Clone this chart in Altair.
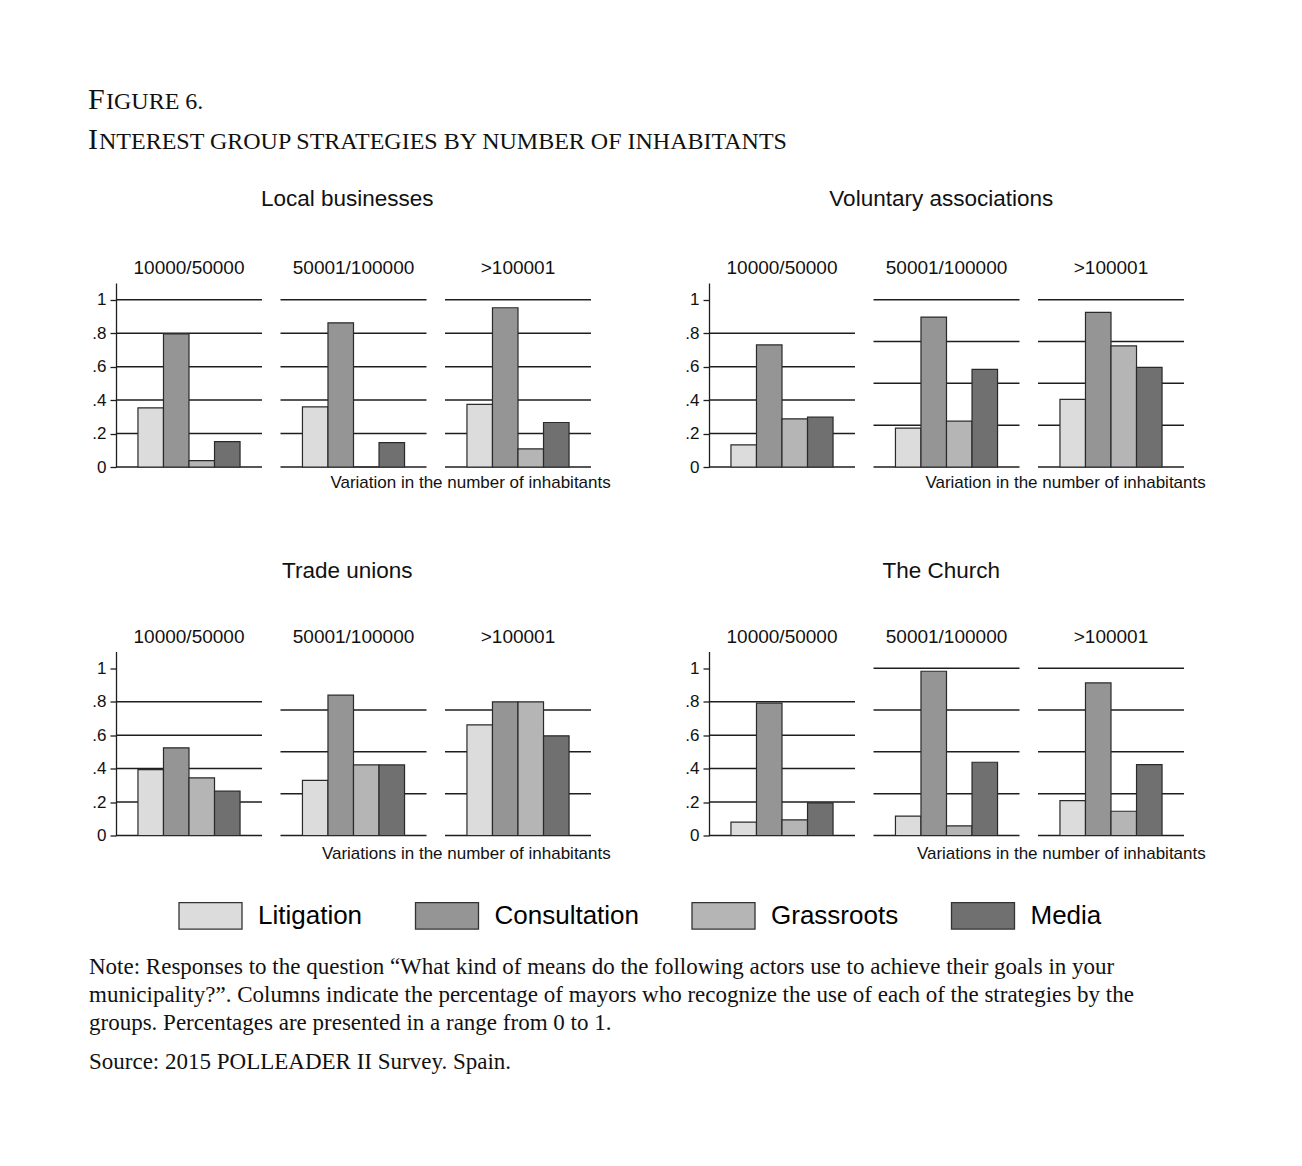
import altair as alt
import pandas as pd

# ---------------- data ----------------
strategies = ["Litigation", "Consultation", "Grassroots", "Media"]
strategy_colors = ["#dcdcdc", "#959595", "#b5b5b5", "#707070"]
size_labels = ["10000/50000", "50001/100000", ">100001"]
group_names = ["Local businesses", "Voluntary associations", "Trade unions", "The Church"]
axis_titles = [
    "Variation in the number of inhabitants",
    "Variation in the number of inhabitants",
    "Variations in the number of inhabitants",
    "Variations in the number of inhabitants",
]

local_businesses = [[0.354, 0.796, 0.038, 0.152], [0.360, 0.862, 0.0, 0.146], [0.374, 0.952, 0.108, 0.266]]
voluntary_associations = [[0.132, 0.730, 0.288, 0.298], [0.232, 0.896, 0.274, 0.584], [0.404, 0.924, 0.724, 0.596]]
trade_unions = [[0.394, 0.524, 0.345, 0.265], [0.329, 0.839, 0.422, 0.422], [0.661, 0.799, 0.799, 0.596]]
the_church = [[0.080, 0.791, 0.094, 0.195], [0.116, 0.982, 0.058, 0.438], [0.209, 0.912, 0.145, 0.424]]
group_values = [local_businesses, voluntary_associations, trade_unions, the_church]

grid_fifths = [0, 0.2, 0.4, 0.6, 0.8, 1.0]
grid_fifths_open = [0, 0.2, 0.4, 0.6, 0.8]
grid_quarters = [0, 0.25, 0.5, 0.75, 1.0]
grid_quarters_open = [0, 0.25, 0.5, 0.75]
group_grids = [
    [grid_fifths, grid_fifths, grid_fifths],
    [grid_fifths_open, grid_quarters, grid_quarters],
    [grid_fifths_open, grid_quarters_open, grid_quarters_open],
    [grid_fifths_open, grid_quarters, grid_quarters],
]
y_ticks = [0, 0.2, 0.4, 0.6, 0.8, 1.0]

header_line1 = ["F", "IGURE 6."]
header_line2 = ["I", "NTEREST GROUP STRATEGIES BY NUMBER OF INHABITANTS"]
note_lines = [
    "Note: Responses to the question \u201cWhat kind of means do the following actors use to achieve their goals in your",
    "municipality?\u201d. Columns indicate the percentage of mayors who recognize the use of each of the strategies by the",
    "groups. Percentages are presented in a range from 0 to 1.",
    "Source: 2015 POLLEADER II Survey. Spain.",
]

SANS = "Liberation Sans"
SERIF = "Liberation Serif"
INK = "#1e1e1e"

legend = alt.Legend(
    orient="none", legendX=62, legendY=805, direction="horizontal", columns=4,
    title=None, symbolType="M-1,-0.42H1V0.42H-1Z", symbolSize=3969,
    symbolStrokeColor="#333333", symbolStrokeWidth=1.3, symbolOpacity=1,
    labelFont=SANS, labelFontSize=26, labelLimit=400,
    labelColor="#000000", labelOffset=15, columnPadding=49.5, padding=0,
)
color_scale = alt.Scale(domain=strategies, range=strategy_colors)
y_scale = alt.Scale(domain=[0, 1.1], nice=False, zero=True)


def panel(gi, si):
    df = pd.DataFrame({"strategy": strategies, "value": group_values[gi][si]})
    gdf = pd.DataFrame({"g": group_grids[gi][si]})
    if si == 0:
        yaxis = alt.Axis(
            values=y_ticks, grid=False, title=None, domain=True, domainColor=INK,
            domainWidth=1.3, ticks=True, tickColor=INK, tickWidth=1.3, tickSize=6,
            labelFont=SANS, labelFontSize=17, labelColor="#111111", labelPadding=4,
            labelExpr="datum.value == 0 ? '0' : datum.value == 1 ? '1' : replace(format(datum.value, '.1f'), '0.', '.')",
        )
    else:
        yaxis = None
    rules = alt.Chart(gdf).mark_rule(color=INK, strokeWidth=1.5).encode(
        y=alt.Y("g:Q", scale=y_scale, axis=yaxis)
    )
    bars = alt.Chart(df).mark_bar(stroke="#2a2a2a", strokeWidth=1.2, opacity=1).encode(
        x=alt.X("strategy:N", sort=strategies,
                scale=alt.Scale(paddingInner=0, paddingOuter=0.86), axis=None),
        y=alt.Y("value:Q", scale=y_scale, axis=yaxis),
        color=alt.Color("strategy:N", scale=color_scale, legend=legend),
    )
    return alt.layer(rules, bars).properties(
        width=146, height=184,
        title=alt.TitleParams(size_labels[si], font=SANS, fontSize=19, fontWeight="normal",
                              color="#111111", offset=-10, baseline="alphabetic", anchor="middle"),
    )


def group(gi):
    bottom_offset = 13 if gi < 2 else 15.5
    top_offset = 31 if gi < 2 else 27
    title_dx = 19 if gi % 2 == 0 else 21
    inner = alt.hconcat(*[panel(gi, si) for si in range(3)], spacing=16.5).properties(
        title=alt.TitleParams(axis_titles[gi], orient="bottom", anchor="end", dx=title_dx,
                              font=SANS, fontSize=17, fontWeight="normal", color="#111111",
                              offset=bottom_offset, baseline="alphabetic")
    )
    return alt.vconcat(inner).properties(
        title=alt.TitleParams(group_names[gi], anchor="middle", font=SANS, fontSize=22.5,
                              fontWeight="normal", color="#111111", offset=top_offset,
                              baseline="alphabetic", dx=-4)
    )


def text_layer(txt, x, y, size, font=SERIF):
    return alt.Chart(pd.DataFrame({"t": [txt]})).mark_text(
        align="left", baseline="alphabetic", font=font, fontSize=size, color="#111111"
    ).encode(x=alt.value(x), y=alt.value(y), text="t:N")


header = alt.layer(
    text_layer(header_line1[0], -28, 31, 30),
    text_layer(header_line1[1], -10, 31, 24),
    text_layer(header_line2[0], -28, 71, 30),
    text_layer(header_line2[1], -17, 71, 24),
).properties(width=1080, height=83)

footer = alt.layer(
    text_layer(note_lines[0], -27, 86, 23),
    text_layer(note_lines[1], -27, 114, 23),
    text_layer(note_lines[2], -27, 142, 23),
    text_layer(note_lines[3], -27, 181, 23),
).properties(width=1080, height=192)

row1 = alt.hconcat(group(0), group(1), spacing=73)
row2 = alt.hconcat(group(2), group(3), spacing=73)
body = alt.vconcat(row1, row2, spacing=68.5)

chart = alt.vconcat(header, body, footer, spacing=26).properties(
    padding={"left": 80, "top": 70, "right": 10, "bottom": 10}
).configure(background="white", font=SANS).configure_view(stroke=None)

chart.save("out.html", embed_options={"renderer": "svg", "actions": False})
